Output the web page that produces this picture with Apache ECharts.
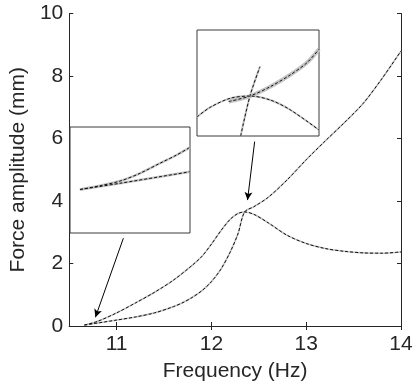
<!DOCTYPE html>
<html>
<head>
<meta charset="utf-8">
<script src="https://cdn.jsdelivr.net/npm/echarts@6/dist/echarts.min.js"></script>
<style>
html,body{margin:0;padding:0;background:#fff;}
#chart{width:417px;height:387px;}
</style>
</head>
<body>
<div id="chart"></div>
<script>
// main curves (Hz, mm)
var arcX = [10.66, 10.8, 11.0, 11.2, 11.4, 11.6, 11.8, 11.9, 12.0, 12.1, 12.2, 12.28, 12.35, 12.45, 12.6, 12.8, 13.0, 13.2, 13.4, 13.6, 13.8, 14.0];
var arcY = [0.03, 0.15, 0.42, 0.74, 1.08, 1.47, 1.95, 2.23, 2.62, 3.05, 3.42, 3.6, 3.65, 3.57, 3.3, 2.9, 2.64, 2.48, 2.39, 2.34, 2.33, 2.37];
var riseX = [10.66, 11.0, 11.2, 11.4, 11.6, 11.7, 11.8, 11.9, 12.0, 12.1, 12.2, 12.28, 12.35, 12.45, 12.6, 12.8, 13.0, 13.2, 13.4, 13.6, 13.8, 14.0];
var riseY = [0.03, 0.19, 0.29, 0.42, 0.62, 0.75, 0.92, 1.13, 1.42, 1.82, 2.38, 2.95, 3.65, 3.82, 4.12, 4.68, 5.32, 5.92, 6.5, 7.12, 7.92, 8.8];

// inset 1 (box fraction)
var in1UpX = [0.083, 0.25, 0.417, 0.583, 0.75, 0.889, 1.0];
var in1UpY = [0.41, 0.446, 0.49, 0.563, 0.658, 0.736, 0.808];
var in1LoX = [0.083, 0.417, 0.75, 1.0];
var in1LoY = [0.41, 0.469, 0.531, 0.578];

// inset 2 (box fraction)
var in2ArcX = [0.0, 0.107, 0.27, 0.434, 0.6, 0.76, 1.0];
var in2ArcY = [0.18, 0.27, 0.355, 0.377, 0.34, 0.25, 0.057];
var in2BrX = [0.26, 0.434, 0.6, 0.762, 0.9, 1.0];
var in2BrY = [0.325, 0.377, 0.465, 0.575, 0.69, 0.818];
var in2StX = [0.358, 0.434, 0.516];
var in2StY = [0.0, 0.377, 0.654];

// arrows [x0, y0, x1, y1]
var arrows = [[11.071, 2.81, 10.776, 0.28], [12.456, 5.90, 12.381, 4.03]];

var xTicks = [11, 12, 13, 14];
var yTicks = [0, 2, 4, 6, 8, 10];

function pairs(xs, ys) {
	var out = [];
	for (var i = 0; i < xs.length; i++) out.push([xs[i], ys[i]]);
	return out;
}

var txt = '#262626';
var font = 'Liberation Sans';

var chart = echarts.init(document.getElementById('chart'));

function curve(name, data, xi, gray, z) {
	z = z || 3;
	return [{
		name: name + '_g', type: 'line', xAxisIndex: xi, yAxisIndex: xi,
		data: data, symbol: 'none', smooth: 0.3, silent: true,
		lineStyle: { color: '#c4c4c4', width: gray || 1.6 }, z: z
	}, {
		name: name, type: 'line', xAxisIndex: xi, yAxisIndex: xi,
		data: data, symbol: 'none', smooth: 0.3, silent: true,
		lineStyle: { color: '#111', width: 1, type: [3, 2] }, z: z + 1
	}];
}

var arrowData = arrows.map(function (a) {
	return [{ coord: [a[0], a[1]] }, { coord: [a[2], a[3]] }];
});

var series = [].concat(
	curve('arc', pairs(arcX, arcY), 0),
	curve('rise', pairs(riseX, riseY), 0),
	curve('in1up', pairs(in1UpX, in1UpY), 2, 2.5, 10),
	curve('in1lo', pairs(in1LoX, in1LoY), 2, 2.5, 10),
	curve('in2arc', pairs(in2ArcX, in2ArcY), 3, 2, 10),
	curve('in2br', pairs(in2BrX, in2BrY), 3, 4, 10),
	curve('in2st', pairs(in2StX, in2StY), 3, 2, 12)
);
series.push({
	type: 'line', xAxisIndex: 0, yAxisIndex: 0, data: [], symbol: 'none',
	markLine: {
		silent: true, animation: false,
		symbol: ['none', 'arrow'], symbolSize: [6, 8],
		label: { show: false },
		lineStyle: { color: '#000', width: 1, type: 'solid' },
		data: arrowData
	}
});

function insetAxis(g) {
	return { gridIndex: g, type: 'value', min: 0, max: 1, show: false };
}

var option = {
	animation: false,
	backgroundColor: '#fff',
	textStyle: { fontFamily: font },
	grid: [
		{ left: 59, top: 13.5, right: 16, bottom: 61 },
		{ left: 70, top: 127, width: 120, height: 106, show: true, backgroundColor: '#fff', borderColor: '#3a3a3a', borderWidth: 1, z: 5 },
		{ left: 197, top: 30, width: 122, height: 106, show: true, backgroundColor: '#fff', borderColor: '#3a3a3a', borderWidth: 1, z: 5 }
	],
	xAxis: [
		{
			gridIndex: 0, type: 'value', min: 10.5, max: 14, position: 'bottom',
			name: 'Frequency (Hz)', nameLocation: 'middle', nameGap: 35,
			nameTextStyle: { fontSize: 21, color: txt, fontFamily: font },
			axisLine: { lineStyle: { color: txt, width: 1 } },
			axisTick: { inside: true, length: 4, lineStyle: { color: txt }, customValues: xTicks },
			axisLabel: { fontSize: 21, color: txt, margin: 8, customValues: xTicks },
			splitLine: { show: false }
		},
		{
			gridIndex: 0, type: 'value', min: 10.5, max: 14, position: 'top',
			axisLine: { show: true, lineStyle: { color: txt, width: 1 } },
			axisTick: { inside: true, length: 4, lineStyle: { color: txt }, customValues: xTicks },
			axisLabel: { show: false },
			splitLine: { show: false }
		},
		insetAxis(1),
		insetAxis(2)
	],
	yAxis: [
		{
			gridIndex: 0, type: 'value', min: 0, max: 10, interval: 2, position: 'left',
			name: 'Force amplitude (mm)', nameLocation: 'middle', nameGap: 37,
			nameTextStyle: { fontSize: 21, color: txt, fontFamily: font },
			axisLine: { show: true, lineStyle: { color: txt, width: 1 } },
			axisTick: { show: true, inside: true, length: 4, lineStyle: { color: txt }, customValues: yTicks },
			axisLabel: { fontSize: 21, color: txt, margin: 6, customValues: yTicks },
			splitLine: { show: false }
		},
		{
			gridIndex: 0, type: 'value', min: 0, max: 10, interval: 2, position: 'right',
			axisLine: { show: true, lineStyle: { color: txt, width: 1 } },
			axisTick: { show: true, inside: true, length: 4, lineStyle: { color: txt } },
			axisLabel: { show: false },
			splitLine: { show: false }
		},
		insetAxis(1),
		insetAxis(2)
	],
	series: series
};

chart.setOption(option);
</script>
</body>
</html>
